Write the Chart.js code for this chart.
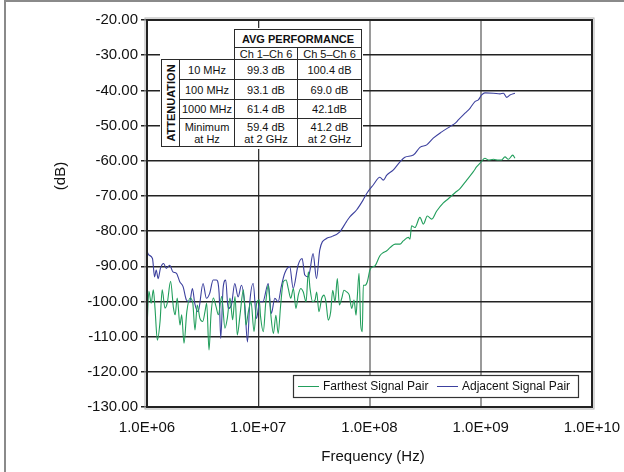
<!DOCTYPE html>
<html>
<head>
<meta charset="utf-8">
<script src="https://cdn.jsdelivr.net/npm/chart.js@4.4.1/dist/chart.umd.min.js"></script>
<style>
  body { margin: 0; background: #fff; }
  #wrap { position: relative; width: 624px; height: 472px; overflow: hidden; }
  #frameTop { position: absolute; left: 4px; top: 0; width: 640px; height: 2px; background: #8a8a8a; }
  #frameLeft { position: absolute; left: 4px; top: 0; width: 2px; height: 480px; background: #8a8a8a; }
  #perf { position: absolute; left: 160px; top: 28px; width: 203px; height: 121px; background: #fff; }
  .cell {
    position: absolute; box-sizing: border-box; border: 1px solid #2a2a2a;
    display: flex; align-items: center; justify-content: center; text-align: center;
    font-family: "Liberation Sans", Arial, Helvetica, sans-serif; font-size: 11px; color: #111;
    line-height: 12px; background: #fff;
  }
  .bold { font-weight: bold; }
  .vert span { transform: rotate(-90deg); white-space: nowrap; display: inline-block; }
</style>
</head>
<body>
<div id="wrap">
  <canvas id="chart" width="624" height="472"></canvas>
  <div id="frameTop"></div>
  <div id="frameLeft"></div>
  <div id="perf"></div>
</div>
<script>
// ---- data ----
const xTickValues = [1e6, 1e7, 1e8, 1e9, 1e10];
const xTickLabels = ['1.0E+06', '1.0E+07', '1.0E+08', '1.0E+09', '1.0E+10'];

// Farthest Signal Pair (green)
const farFreq = [
  1.00e6, 1.04e6, 1.09e6, 1.14e6, 1.18e6, 1.24e6, 1.31e6, 1.37e6, 1.45e6, 1.52e6,
  1.63e6, 1.73e6, 1.79e6, 1.87e6, 1.98e6, 2.05e6, 2.15e6, 2.28e6, 2.44e6, 2.58e6,
  2.70e6, 2.83e6, 2.99e6, 3.17e6, 3.32e6, 3.44e6, 3.61e6, 3.76e6, 3.95e6, 4.17e6,
  4.38e6, 4.69e6, 5.02e6, 5.27e6, 5.57e6, 5.89e6, 6.18e6, 6.48e6, 6.86e6, 7.35e6,
  7.76e6, 8.15e6, 8.61e6, 9.16e6, 9.68e6, 1.02e7, 1.05e7, 1.11e7, 1.17e7, 1.23e7,
  1.29e7, 1.37e7, 1.44e7, 1.51e7, 1.59e7, 1.68e7, 1.78e7, 1.86e7, 1.96e7, 2.07e7,
  2.18e7, 2.29e7, 2.41e7, 2.54e7, 2.69e7, 2.82e7, 2.92e7, 3.08e7, 3.24e7, 3.35e7,
  3.51e7, 3.72e7, 3.90e7, 4.06e7, 4.26e7, 4.48e7, 4.67e7, 4.90e7, 5.14e7, 5.36e7,
  5.63e7, 5.90e7, 6.24e7, 6.58e7, 6.92e7, 7.26e7, 7.57e7, 7.77e7, 8.05e7, 8.34e7,
  8.61e7, 8.80e7, 9.12e7, 9.56e7, 1.01e8, 1.08e8, 1.12e8, 1.24e8, 1.33e8, 1.43e8,
  1.53e8, 1.70e8, 1.88e8, 2.01e8, 2.23e8, 2.31e8, 2.39e8, 2.56e8, 2.84e8, 3.05e8,
  3.31e8, 3.63e8, 4.02e8, 4.61e8, 5.11e8, 5.87e8, 6.51e8, 7.48e8, 8.58e8, 9.20e8,
  9.85e8, 1.09e9, 1.17e9, 1.30e9, 1.44e9, 1.54e9, 1.65e9, 1.77e9, 1.94e9, 2.03e9
];
const farDb = [
  -107.6, -97.1, -100.5, -96.7, -101.9, -111.0, -105.7, -96.7, -101.9, -100.5,
  -94.3, -101.9, -103.8, -99.0, -106.7, -103.8, -111.9, -102.9, -99.0, -100.5,
  -108.1, -101.0, -104.8, -105.7, -102.9, -100.5, -113.8, -103.8, -99.0, -101.4,
  -103.8, -98.6, -107.6, -104.8, -99.0, -105.2, -98.6, -109.5, -103.8, -96.7,
  -106.7, -102.9, -100.0, -108.6, -100.5, -99.5, -104.4, -108.6, -100.1, -95.4,
  -103.0, -109.1, -103.9, -109.1, -101.0, -94.4, -93.9, -96.3, -99.1, -96.3,
  -102.0, -98.2, -96.3, -97.3, -100.1, -91.6, -96.3, -100.1, -99.6, -97.3,
  -102.9, -99.1, -98.2, -100.1, -105.3, -102.9, -96.8, -100.1, -93.5, -101.0,
  -99.1, -96.8, -97.3, -98.2, -102.0, -99.6, -103.9, -98.7, -92.0, -106.7,
  -108.6, -95.4, -95.4, -94.4, -91.0, -90.1, -89.9, -87.0, -86.1, -85.6,
  -84.7, -83.7, -83.7, -82.8, -81.8, -82.3, -78.5, -79.0, -76.1, -78.0,
  -75.7, -76.6, -74.3, -72.0, -70.8, -69.1, -67.9, -65.5, -63.1, -61.7,
  -60.7, -59.3, -59.8, -59.6, -59.8, -59.8, -58.9, -59.6, -58.4, -59.3
];

// Adjacent Signal Pair (blue)
const adjFreq = [
  1.00e6, 1.04e6, 1.12e6, 1.17e6, 1.21e6, 1.26e6, 1.32e6, 1.41e6, 1.49e6, 1.60e6,
  1.71e6, 1.84e6, 1.97e6, 2.11e6, 2.26e6, 2.42e6, 2.56e6, 2.69e6, 2.88e6, 3.19e6,
  3.42e6, 3.66e6, 3.93e6, 4.21e6, 4.45e6, 4.60e6, 4.83e6, 5.10e6, 5.36e6, 5.74e6,
  6.15e6, 6.59e6, 7.06e6, 7.57e6, 8.00e6, 8.40e6, 9.00e6, 9.64e6, 1.03e7, 1.10e7,
  1.23e7, 1.31e7, 1.41e7, 1.51e7, 1.61e7, 1.73e7, 1.92e7, 2.06e7, 2.28e7, 2.48e7,
  2.62e7, 2.81e7, 2.90e7, 3.11e7, 3.34e7, 3.57e7, 4.10e7, 4.55e7, 5.41e7, 6.21e7,
  6.68e7, 7.65e7, 8.75e7, 9.44e7, 1.08e8, 1.24e8, 1.33e8, 1.43e8, 1.64e8, 1.88e8,
  2.08e8, 2.48e8, 2.84e8, 3.27e8, 3.74e8, 4.46e8, 5.29e8, 5.87e8, 6.29e8, 7.22e8,
  8.00e8, 8.87e8, 9.51e8, 1.02e9, 1.09e9, 1.30e9, 1.49e9, 1.60e9, 1.71e9, 1.83e9,
  2.03e9
];
const adjDb = [
  -85.7, -86.8, -87.8, -93.0, -91.1, -93.5, -90.6, -89.2, -90.6, -89.7,
  -91.6, -92.0, -94.4, -95.8, -99.6, -100.1, -96.3, -100.6, -102.9, -94.9,
  -99.1, -97.7, -93.9, -93.9, -97.7, -110.5, -96.3, -93.9, -102.0, -101.0,
  -94.9, -98.7, -95.4, -101.0, -111.5, -100.1, -94.9, -104.8, -100.1, -100.1,
  -94.9, -103.4, -99.1, -100.1, -95.8, -92.0, -90.1, -96.3, -89.7, -87.8,
  -92.5, -93.0, -91.6, -86.4, -93.5, -85.4, -82.1, -81.6, -80.2, -77.3,
  -75.9, -74.0, -71.2, -69.3, -66.9, -64.7, -65.5, -64.1, -62.6, -60.3,
  -59.0, -58.4, -56.2, -55.5, -53.6, -51.8, -50.3, -49.4, -48.4, -46.5,
  -45.1, -43.2, -42.7, -41.3, -40.7, -40.8, -41.0, -40.8, -42.0, -41.3,
  -40.8
];

// inset table
const perfHeader = 'AVG PERFORMANCE';
const perfCols = ['Ch 1\u2013Ch 6', 'Ch 5\u2013Ch 6'];
const perfSide = 'ATTENUATION';
const perfRows = ['10 MHz', '100 MHz', '1000 MHz', 'Minimum<br>at Hz'];
const perfCh16 = ['99.3 dB', '93.1 dB', '61.4 dB', '59.4 dB<br>at 2 GHz'];
const perfCh56 = ['100.4 dB', '69.0 dB', '42.1dB', '41.2 dB<br>at 2 GHz'];

const FONT = '"Liberation Sans", Arial, Helvetica, sans-serif';
const GREEN = 'rgb(34,158,92)';
const BLUE = 'rgb(60,64,158)';

// build the inset table (coords relative to #perf)
function buildTable() {
    const box = document.getElementById('perf');
    const ox = 160, oy = 28;
    const cols = [161, 179, 234, 297, 361];
    const rows = [29, 47, 59, 79, 99, 118, 146];
    function cell(x0, y0, x1, y1, html, cls) {
        const d = document.createElement('div');
        d.className = 'cell' + (cls ? ' ' + cls : '');
        d.style.left = (x0 - ox) + 'px';
        d.style.top = (y0 - oy) + 'px';
        d.style.width = (x1 - x0 + 1) + 'px';
        d.style.height = (y1 - y0 + 1) + 'px';
        d.innerHTML = html;
        box.appendChild(d);
        return d;
    }
    cell(cols[2], rows[0], cols[4], rows[1], perfHeader, 'bold');
    cell(cols[2], rows[1], cols[3], rows[2], perfCols[0]);
    cell(cols[3], rows[1], cols[4], rows[2], perfCols[1]);
    cell(cols[0], rows[2], cols[1], rows[6], '<span>' + perfSide + '</span>', 'bold vert');
    perfRows.forEach((label, i) => {
        cell(cols[1], rows[2 + i], cols[2], rows[3 + i], label);
        cell(cols[2], rows[2 + i], cols[3], rows[3 + i], perfCh16[i]);
        cell(cols[3], rows[2 + i], cols[4], rows[3 + i], perfCh56[i]);
    });
}

// frame, axis titles and legend
const decorPlugin = {
    id: 'decor',
    afterDraw(chart) {
        const ctx = chart.ctx;
        const a = chart.chartArea;
        ctx.save();
        // plot frame with faint shadow
        ctx.strokeStyle = '#b0b0b0';
        ctx.lineWidth = 1;
        ctx.strokeRect(a.left - 2, a.top - 2, a.right - a.left + 4, a.bottom - a.top + 4);
        ctx.strokeStyle = '#222';
        ctx.lineWidth = 2;
        ctx.strokeRect(a.left, a.top, a.right - a.left, a.bottom - a.top);

        // axis titles
        ctx.fillStyle = '#111';
        ctx.font = '15px ' + FONT;
        ctx.textAlign = 'center';
        ctx.textBaseline = 'middle';
        ctx.fillText('Frequency (Hz)', 373, 457);
        ctx.translate(61, 176);
        ctx.rotate(-Math.PI / 2);
        ctx.fillText('(dB)', 0, 0);
        ctx.setTransform(1, 0, 0, 1, 0, 0);

        // legend box
        const lx = 293, ly = 375, lw = 285, lh = 22;
        ctx.fillStyle = '#fff';
        ctx.fillRect(lx, ly, lw, lh);
        ctx.strokeStyle = '#333';
        ctx.lineWidth = 1.2;
        ctx.strokeRect(lx + 0.5, ly + 0.5, lw, lh);
        ctx.font = '12px ' + FONT;
        ctx.textAlign = 'left';
        const cy = ly + lh / 2 + 0.5;
        const starts = [298, 437];
        chart.data.datasets.forEach((ds, i) => {
            const sx = starts[i];
            ctx.strokeStyle = ds.borderColor;
            ctx.lineWidth = 1;
            ctx.beginPath();
            ctx.moveTo(sx, cy);
            ctx.lineTo(sx + 21, cy);
            ctx.stroke();
            ctx.fillStyle = '#111';
            ctx.fillText(ds.label, sx + 25, cy);
        });
        ctx.restore();
    }
};

function initChart() {
    const canvas = document.getElementById('chart');
    buildTable();

    const farPoints = farFreq.map((f, i) => ({ x: f, y: farDb[i] }));
    const adjPoints = adjFreq.map((f, i) => ({ x: f, y: adjDb[i] }));

    new Chart(canvas, {
        type: 'line',
        data: {
            datasets: [
                { label: 'Farthest Signal Pair', data: farPoints, borderColor: GREEN, borderWidth: 1.1 },
                { label: 'Adjacent Signal Pair', data: adjPoints, borderColor: BLUE, borderWidth: 1.1 }
            ]
        },
        options: {
            responsive: false,
            animation: false,
            layout: { padding: { top: 20, right: 32, left: 0, bottom: 0 } },
            plugins: {
                legend: { display: false },
                tooltip: { enabled: false }
            },
            elements: {
                point: { radius: 0 },
                line: { cubicInterpolationMode: 'monotone' }
            },
            scales: {
                x: {
                    type: 'logarithmic',
                    min: 1e6,
                    max: 1e10,
                    afterBuildTicks: s => { s.ticks = xTickValues.map(v => ({ value: v })); },
                    afterFit: s => { s.height = 65; s.paddingLeft = 0; s.paddingRight = 0; },
                    border: { display: false },
                    grid: {
                        drawTicks: false,
                        lineWidth: c => (c.index === 1 ? 1.3 : 2),
                        color: c => (c.index === 1 ? '#333' : '#9a9a9a')
                    },
                    ticks: {
                        autoSkip: false,
                        maxRotation: 0,
                        padding: 12,
                        color: '#111',
                        font: { size: 15, family: FONT },
                        callback: (v, i) => xTickLabels[i]
                    }
                },
                y: {
                    min: -130,
                    max: -20,
                    afterFit: s => { s.width = 147; s.paddingTop = 0; s.paddingBottom = 0; },
                    border: { display: false },
                    grid: { tickLength: 6, color: '#222', lineWidth: 1.5 },
                    ticks: {
                        stepSize: 10,
                        padding: 3,
                        color: '#111',
                        font: { size: 15, family: FONT },
                        callback: v => v.toFixed(2)
                    }
                }
            }
        },
        plugins: [decorPlugin]
    });
}

document.addEventListener('DOMContentLoaded', initChart);
</script>
</body>
</html>
